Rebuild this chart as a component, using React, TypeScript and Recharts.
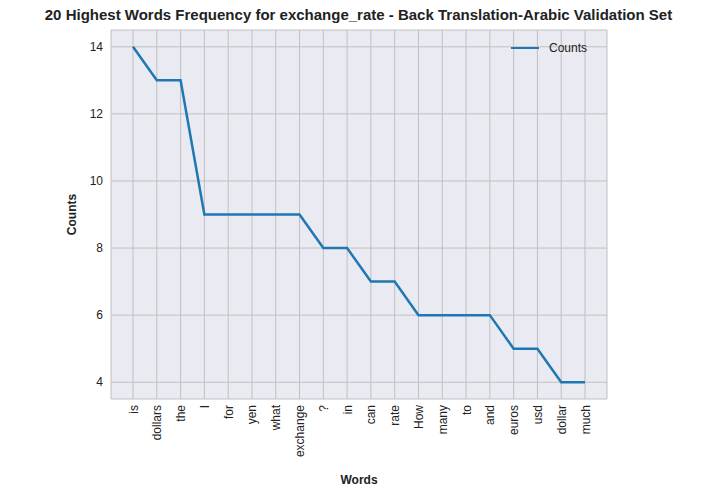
import { LineChart, Line, XAxis, YAxis, CartesianGrid } from "recharts";

const words = ["is", "dollars", "the", "I", "for", "yen", "what", "exchange", "?", "in", "can", "rate", "How", "many", "to", "and", "euros", "usd", "dollar", "much"];
const counts = [14, 13, 13, 9, 9, 9, 9, 9, 8, 8, 7, 7, 6, 6, 6, 6, 5, 5, 4, 4];
const yTicks = [4, 6, 8, 10, 12, 14];

const data = words.map((w, i) => ({ word: w, Counts: counts[i] }));

const font = "'Liberation Sans', Arial, sans-serif";

export default function App() {
  return (
    <div style={{ position: "fixed", left: 0, top: 0, width: 717, height: 494, background: "#fff", fontFamily: font }}>
      <div style={{ position: "absolute", top: 6, left: 0, width: 717, textAlign: "center", fontWeight: "bold", fontSize: 15, color: "#222" }}>
        20 Highest Words Frequency for exchange_rate - Back Translation-Arabic Validation Set
      </div>
      <LineChart width={717} height={494} data={data} margin={{ top: 30, right: 110, bottom: 0, left: 0 }}>
        <CartesianGrid stroke="#c0c0c0" strokeWidth={1} fill="#eaeaf2" />
        <XAxis
          dataKey="word"
          scale="point"
          padding={{ left: 22, right: 22 }}
          height={95}
          interval={0}
          tickLine={false}
          axisLine={false}
          tick={{ fontSize: 12, fill: "#222", fontFamily: font }}
          angle={-90}
          textAnchor="end"
          dx={-4}
          dy={-2}
          label={{ value: "Words", position: "insideBottom", offset: 10, fontWeight: "bold", fontSize: 12, fill: "#222" }}
        />
        <YAxis
          domain={[3.5, 14.5]}
          ticks={yTicks}
          width={111}
          tickLine={false}
          axisLine={false}
          tick={{ fontSize: 12, fill: "#222", fontFamily: font }}
          label={{ value: "Counts", angle: -90, position: "insideLeft", offset: 72, fontWeight: "bold", fontSize: 12, fill: "#222", style: { textAnchor: "middle" } }}
        />
        <Line type="linear" dataKey="Counts" stroke="#1f77b4" strokeWidth={2.5} dot={false} isAnimationActive={false} />
      </LineChart>
      <div style={{ position: "absolute", top: 41, left: 511, display: "flex", alignItems: "center", fontSize: 12, color: "#222" }}>
        <div style={{ width: 28, height: 2.5, background: "#1f77b4", marginRight: 10 }} />
        Counts
      </div>
    </div>
  );
}
